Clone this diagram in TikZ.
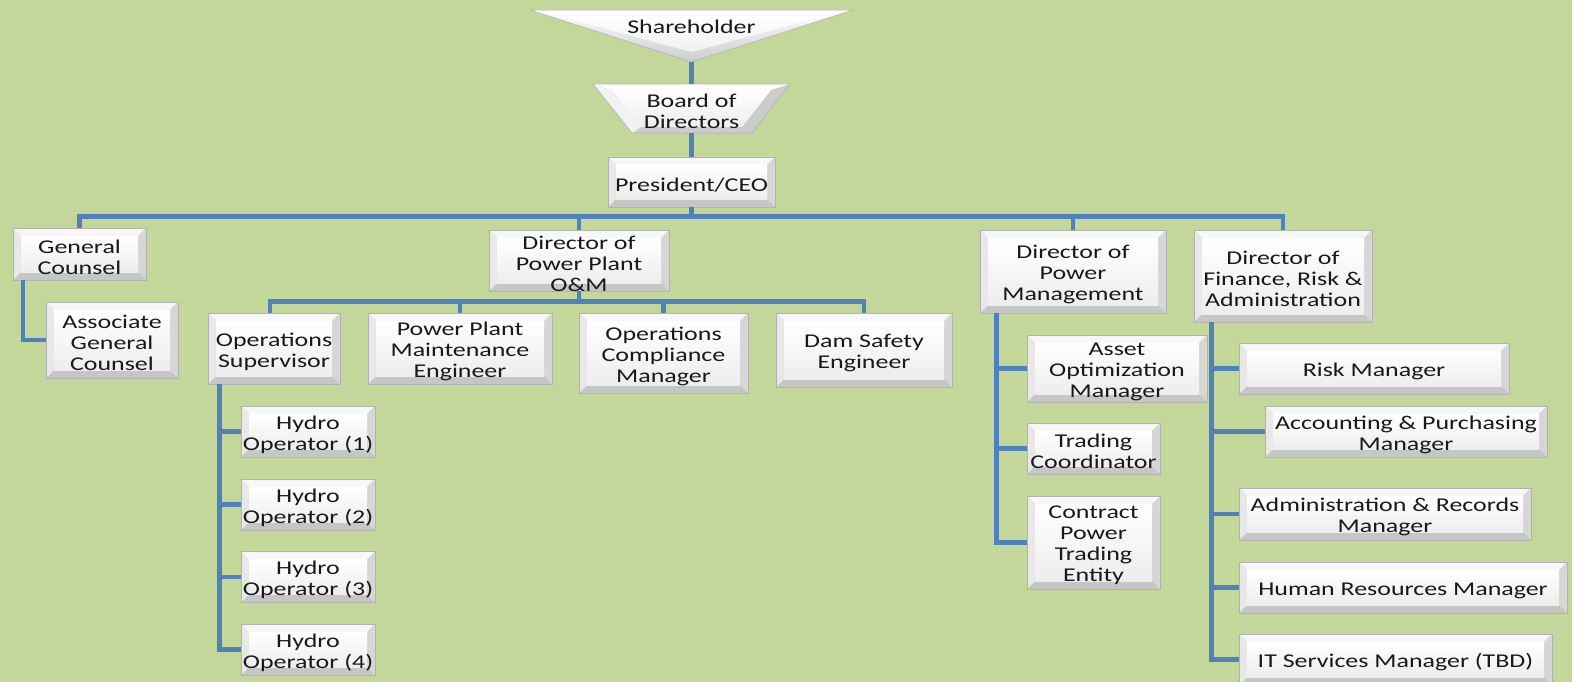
\documentclass[tikz,border=0pt]{standalone}
\usepackage{fontspec}
\setmainfont{Carlito}[FakeStretch=1.33]
\usetikzlibrary{calc}
\definecolor{bgc}{RGB}{196,215,155}
\definecolor{linec}{RGB}{79,129,189}
\definecolor{txtc}{RGB}{25,25,25}
\newcommand\orgfont{\fontsize{19.5}{21}\selectfont}
\tikzset{
  conn/.style={draw=linec, line width=4.5pt, line join=miter},
  lbl/.style={font=\orgfont, text=txtc, align=center, inner sep=0pt},
  bevelbox/.style={draw=gray!60, line width=0.6pt, inner sep=0pt,
    path picture={
      \coordinate (pA) at (path picture bounding box.south west);
      \coordinate (pB) at (path picture bounding box.north east);
      \coordinate (qA) at ($(pA)+(8pt,8pt)$);
      \coordinate (qB) at ($(pB)+(-8pt,-8pt)$);
      \fill[gray!6] (pA|-pB) -- (pB) -- (qB) -- (qA|-qB) -- cycle;
      \fill[gray!45] (pA) -- (pB|-pA) -- (qB|-qA) -- (qA) -- cycle;
      \fill[gray!18] (pA) -- (qA) -- (qA|-qB) -- (pA|-pB) -- cycle;
      \fill[gray!32] (pB|-pA) -- (pB) -- (qB) -- (qB|-qA) -- cycle;
      \shade[top color=white, bottom color=gray!14] (qA) rectangle (qB);
    }},
  bx/.style n args={3}{bevelbox, minimum width=#1pt, minimum height=#2pt,
    label={[lbl,yshift=-3pt]center:#3}}
}
\begin{document}
\begin{tikzpicture}[x=1pt,y=-1pt]
\useasboundingbox (0,0) rectangle (1572,682);
\fill[bgc] (0,0) rectangle (1572,682);

% Shareholder triangle
\shade[top color=white, bottom color=gray!40, draw=gray!60, line width=0.6pt]
  (530,10) -- (853,10) -- (691.5,62) -- cycle;
\shade[top color=white, bottom color=gray!12]
  (558,16) -- (825,16) -- (691.5,52) -- cycle;
\node[lbl] (sh) at (691.5,26.5) {Shareholder};
\coordinate (shtip) at (691.5,62);

% Board trapezoid
\fill[gray!40] (593,84) -- (790,84) -- (752,133) -- (632,133) -- cycle;
\fill[gray!10] (593,84) -- (612,90) -- (641,127) -- (632,133) -- cycle;
\fill[white] (593,84) -- (790,84) -- (771,90) -- (612,90) -- cycle;
\shade[top color=white, bottom color=gray!14] (612,90) -- (771,90) -- (742,127) -- (641,127) -- cycle;
\draw[gray!60, line width=0.6pt] (593,84) -- (790,84) -- (752,133) -- (632,133) -- cycle;
\node[lbl] (bod) at (691.5,111) {Board of\\Directors};
\coordinate (bodtop) at (691.5,84);
\coordinate (bodbot) at (691.5,133);

% Boxes
\node[bx={167}{50}{President/CEO}] (ceo) at (691.5,182) {};
\node[bx={133}{52}{General\\Counsel}] (gc) at (79.5,254) {};
\node[bx={132}{76}{Associate\\General\\Counsel}] (agc) at (112,340) {};
\node[bx={180}{61}{Director of\\Power Plant\\O\&M}] (dpp) at (579,260.5) {};
\node[bx={132}{71}{Operations\\Supervisor}] (os) at (274,348.5) {};
\node[bx={184}{71}{Power Plant\\Maintenance\\Engineer}] (ppm) at (460,348.5) {};
\node[bx={169}{80}{Operations\\Compliance\\Manager}] (ocm) at (663.5,353) {};
\node[bx={176}{74}{Dam Safety\\Engineer}] (dse) at (864,350) {};
\node[bx={134}{51}{Hydro\\Operator (1)}] (ho1) at (308,431.5) {};
\node[bx={134}{51}{Hydro\\Operator (2)}] (ho2) at (308,504.5) {};
\node[bx={134}{51}{Hydro\\Operator (3)}] (ho3) at (308,577) {};
\node[bx={134}{51}{Hydro\\Operator (4)}] (ho4) at (308,649.5) {};
\node[bx={186}{83}{Director of\\Power\\Management}] (dpm) at (1073,271.5) {};
\node[bx={180}{67}{Asset\\Optimization\\Manager}] (aom) at (1117,368.5) {};
\node[bx={133}{51}{Trading\\Coordinator}] (tc) at (1093.5,448.5) {};
\node[bx={133}{93}{Contract\\Power\\Trading\\Entity}] (cpte) at (1093.5,542.5) {};
\node[bx={178}{92}{Director of\\Finance, Risk \&\\Administration}] (dfin) at (1283,276) {};
\node[bx={270}{51}{Risk Manager}] (rm) at (1374,368.5) {};
\node[bx={282}{51}{Accounting \& Purchasing\\Manager}] (apm) at (1406,431.5) {};
\node[bx={292}{52}{Administration \& Records\\Manager}] (arm) at (1385,514) {};
\node[bx={328}{51}{Human Resources Manager}] (hrm) at (1403,587.5) {};
\node[bx={313}{51}{IT Services Manager (TBD)}] (itm) at (1395.5,659.5) {};

% Connectors
\draw[conn] (shtip) -- (bodtop);
\draw[conn] (bodbot) -- (ceo.north);
\path (ceo.south) ++(0,9) coordinate (bus);
\draw[conn] (ceo.south) -- (bus);
\draw[conn] (gc.north) -- (gc.north |- bus) -- (dfin.north |- bus) -- (dfin.north);
\draw[conn] (dpp.north) -- (dpp.north |- bus);
\draw[conn] (dpm.north) -- (dpm.north |- bus);

\draw[conn] ([xshift=10.5pt]gc.south west) |- (agc.west);

\path (dpp.south) ++(0,10) coordinate (sub);
\draw[conn] (dpp.south) -- (sub);
\draw[conn] ([xshift=-4pt]os.north) -- ([xshift=-4pt]os.north |- sub) -- (dse.north |- sub) -- (dse.north);
\draw[conn] (ppm.north) -- (ppm.north |- sub);
\draw[conn] (ocm.north) -- (ocm.north |- sub);

\coordinate (t1) at ([xshift=12pt]os.south west);
\draw[conn] (t1) |- (ho4.west);
\foreach \n in {ho1,ho2,ho3} \draw[conn] (\n.west) -- (\n.west -| t1);

\coordinate (t2) at ([xshift=17pt]dpm.south west);
\draw[conn] (t2) |- (cpte.west);
\foreach \n in {aom,tc} \draw[conn] (\n.west) -- (\n.west -| t2);

\coordinate (t3) at ([xshift=18pt]dfin.south west);
\draw[conn] (t3) |- (itm.west);
\foreach \n in {rm,apm,arm,hrm} \draw[conn] (\n.west) -- (\n.west -| t3);
\end{tikzpicture}
\end{document}
